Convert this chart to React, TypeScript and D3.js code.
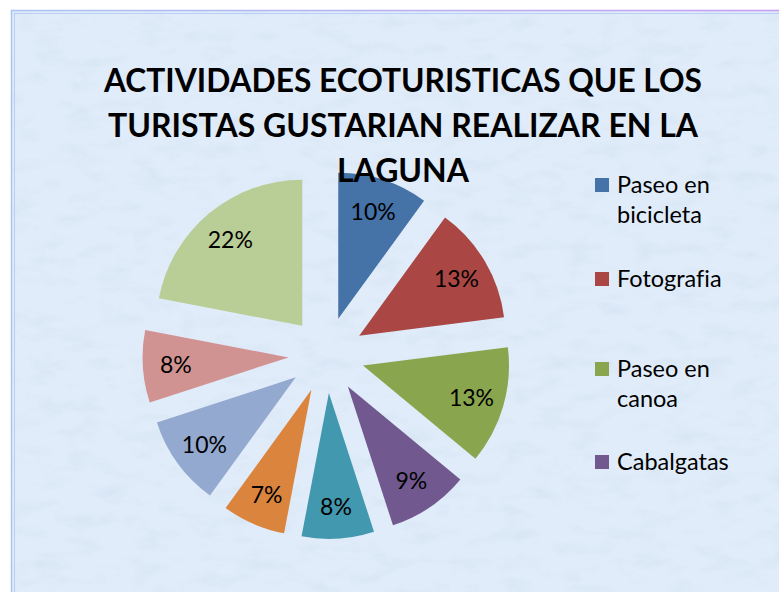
import React from 'react'
import * as d3 from 'd3'

// values
const categories = [
  'Paseo en bicicleta',
  'Fotografia',
  'Paseo en canoa',
  'Cabalgatas',
  'Actividad 5',
  'Actividad 6',
  'Actividad 7',
  'Actividad 8',
  'Actividad 9'
]
const percents = [10, 13, 13, 9, 8, 7, 10, 8, 22]
const colors = ['#4572A7', '#AA4643', '#89A54E', '#71588F', '#4198AF', '#DB843D', '#93A9CF', '#D19392', '#B9CD96']
const titleLines = ['ACTIVIDADES ECOTURISTICAS QUE LOS', 'TURISTAS GUSTARIAN REALIZAR EN LA', 'LAGUNA']
const titleWidths = [598, 590, 132]
// legend is clipped by the chart area, only these show
const legendShown = [
  ['Paseo en', 'bicicleta'],
  ['Fotografia'],
  ['Paseo en', 'canoa'],
  ['Cabalgatas']
]

const W = 779
const H = 592
const cx = 326.5
const cy = 355
const radius = 146
const explode = 38

export default function App() {
  const data = categories.map((c, i) => ({ name: c, value: percents[i], color: colors[i] }))
  const pie = d3.pie<any>().value(d => d.value).sort(null)
  const slices = pie(data)
  const arc = d3.arc<any>().innerRadius(0).outerRadius(radius)
  const labelArc = d3.arc<any>().innerRadius(113).outerRadius(113)

  const legendY = [178, 272, 362, 455]

  return (
    <div style={{ position: 'absolute', left: 0, top: 0 }}>
      <svg width={W} height={H} style={{ display: 'block', fontVariantLigatures: 'none' }}>
        <defs>
          <filter id='tissue' x='0' y='0' width='100%' height='100%'>
            <feTurbulence type='fractalNoise' baseFrequency='0.03 0.07' numOctaves={4} seed={7} result='noise' />
            <feColorMatrix
              in='noise'
              type='matrix'
              values='0 0 0 0 0.66  0 0 0 0 0.76  0 0 0 0 0.88  0 0 0 -2.2 1.15'
            />
          </filter>
          <linearGradient id='frame' x1='0' x2='1' y1='0' y2='0'>
            <stop offset='0' stopColor='#aac4f4' />
            <stop offset='1' stopColor='#c79cf2' />
          </linearGradient>
        </defs>
        <rect x={0} y={0} width={W} height={H} fill='#ffffff' />
        <rect x={12} y={11} width={W} height={H} fill='#e0ecf9' />
        <rect x={12} y={11} width={W} height={H} filter='url(#tissue)' opacity={0.7} />
        <rect x={11.5} y={10.5} width={W} height={H} fill='none' stroke='url(#frame)' strokeWidth={1.5} />
        <rect x={14.5} y={13.5} width={W} height={H} fill='none' stroke='#b9cff6' strokeWidth={1} />

        <g transform={`translate(${cx},${cy})`}>
          {slices.map((s, i) => {
            const mid = (s.startAngle + s.endAngle) / 2
            const dx = Math.sin(mid) * explode
            const dy = -Math.cos(mid) * explode
            const [lx, ly] = labelArc.centroid(s)
            return (
              <g key={i} transform={`translate(${dx},${dy})`}>
                <path d={arc(s) || ''} fill={s.data.color} />
                <text
                  x={lx}
                  y={ly}
                  textAnchor='middle'
                  dominantBaseline='central'
                  fontFamily='Lato, sans-serif'
                  fontSize={23}
                  fill='#000'
                >
                  {s.data.value}%
                </text>
              </g>
            )
          })}
        </g>

        <g fontFamily='Lato, sans-serif' fontWeight='bold' fontSize={33} fill='#000'>
          {titleLines.map((t, i) => (
            <text
              key={i}
              x={403}
              y={92 + i * 45}
              textAnchor='middle'
              textLength={titleWidths[i]}
              lengthAdjust='spacingAndGlyphs'
            >
              {t}
            </text>
          ))}
        </g>

        <g fontFamily='Lato, sans-serif' fontSize={23.5} fill='#000'>
          {legendShown.map((lines, i) => (
            <g key={i}>
              <rect x={595} y={legendY[i]} width={14} height={14} fill={colors[i]} />
              {lines.map((l, j) => (
                <text key={j} x={617} y={legendY[i] + 15 + j * 30}>
                  {l}
                </text>
              ))}
            </g>
          ))}
        </g>
      </svg>
    </div>
  )
}
